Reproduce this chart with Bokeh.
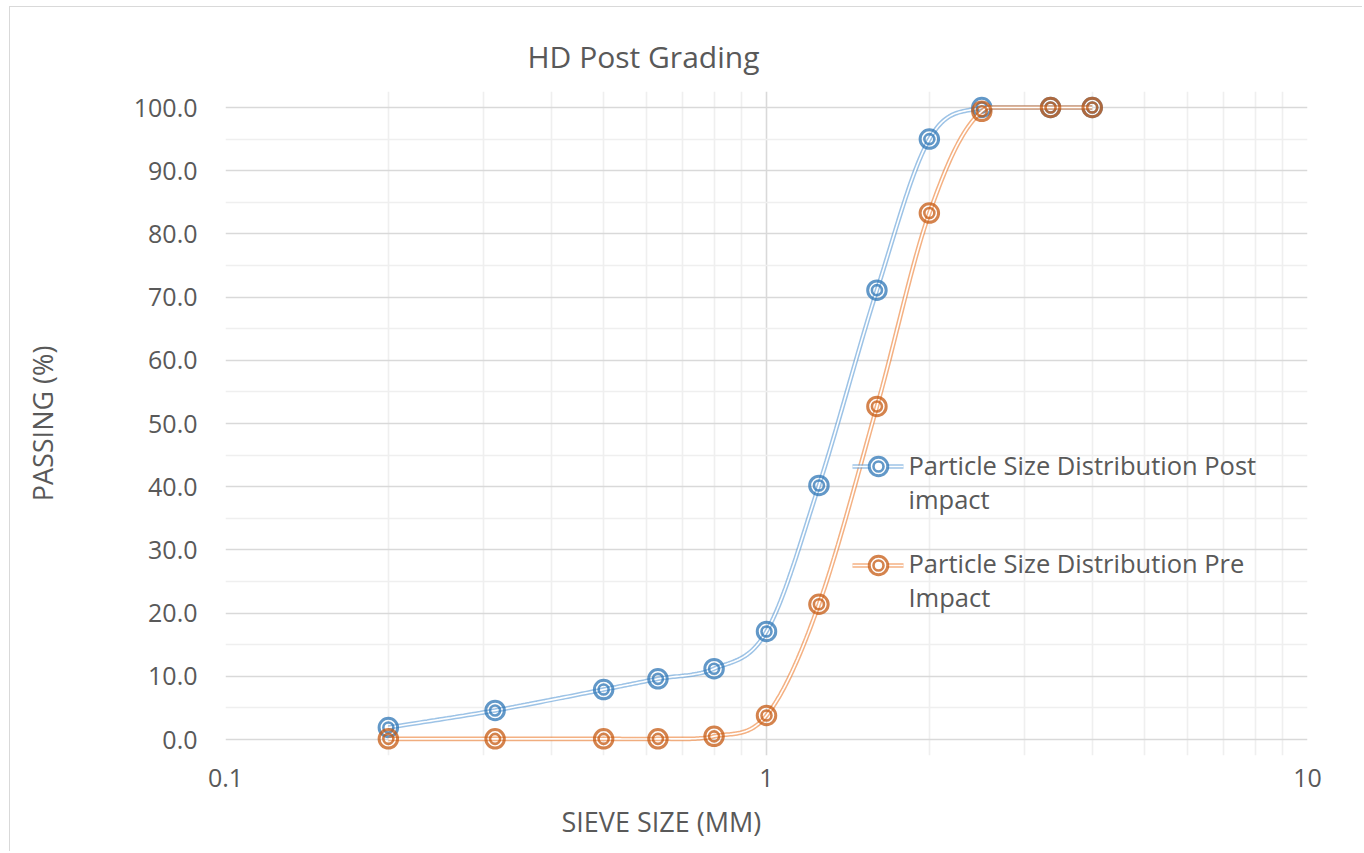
import numpy as np
from bokeh.plotting import figure
from bokeh.models import Range1d, FixedTicker, PrintfTickFormatter, Title
from bokeh.core.properties import value
from bokeh.embed import file_html
from bokeh.resources import INLINE

# ---------------- data ----------------
sieve_mm = [0.2, 0.315, 0.5, 0.63, 0.8, 1.0, 1.25, 1.6, 2.0, 2.5, 3.35, 4.0]
passing_post = [1.9, 4.6, 7.9, 9.6, 11.2, 17.1, 40.2, 71.1, 95.0, 100.0, 100.0, 100.0]
passing_pre = [0.1, 0.1, 0.1, 0.1, 0.5, 3.8, 21.4, 52.7, 83.3, 99.4, 100.0, 100.0]
series_label_lines = [["Particle Size Distribution Post", "impact"],
                      ["Particle Size Distribution Pre", "Impact"]]
y_ticks = [0, 10, 20, 30, 40, 50, 60, 70, 80, 90, 100]
y_minor_ticks = [5, 15, 25, 35, 45, 55, 65, 75, 85, 95]
x_ticks = [0.1, 1, 10]
x_tick_labels = ["0.1", "1", "10"]
x_minor_ticks = [0.2, 0.3, 0.4, 0.5, 0.6, 0.7, 0.8, 0.9, 2, 3, 4, 5, 6, 7, 8, 9]
chart_title = "HD Post Grading"
x_title = "SIEVE SIZE (MM)"
y_title = "PASSING (%)"

# ---------------- layout (page pixels) ----------------
ORIGIN_X, ORIGIN_Y = 10, 7          # canvas origin on the page (after css margin+border)
FIG_W, FIG_H = 1352, 844
PA_LEFT, PA_W = 225, 1082           # plot area on the page
PA_TOP, PA_BOT = 107, 739           # y=100 and y=0 lines on the page
PAD = 16                            # extra frame room so edge markers are not clipped
PX_PER_UNIT = (PA_BOT - PA_TOP) / 100.0

TEXT_COLOR = "#595959"
FONT = "Open Sans"
BLUE_LINE, BLUE_MARK = "#5B9BD5", "#2E75B6"
ORANGE_LINE, ORANGE_MARK = "#ED7D31", "#C55A11"


def xd(px):
    return 10 ** (-1 + 2.0 * (px - PA_LEFT) / PA_W)


def yd(py):
    return (PA_BOT - py) / PX_PER_UNIT


def smooth(xs, ys, steps=30):
    """Excel-like smoothed line (Catmull-Rom Bezier) in log-x space, clipped to the plot area."""
    u = np.log10(np.asarray(xs, float))
    v = np.asarray(ys, float)
    P = np.column_stack([u, v])
    n = len(P)
    out = [P[0]]
    for i in range(n - 1):
        p0 = P[i - 1] if i > 0 else P[i]
        p1, p2 = P[i], P[i + 1]
        p3 = P[i + 2] if i + 2 < n else P[i + 1]
        c1 = p1 + (p2 - p0) / 6.0
        c2 = p2 - (p3 - p1) / 6.0
        t = np.linspace(0, 1, steps + 1)[1:, None]
        b = ((1 - t) ** 3) * p1 + 3 * ((1 - t) ** 2) * t * c1 + 3 * (1 - t) * t ** 2 * c2 + t ** 3 * p2
        out.extend(b)
    out = np.array(out)
    return 10 ** out[:, 0], np.clip(out[:, 1], 0, 100)


pad_units = PAD / PX_PER_UNIT
frame_top = PA_TOP - PAD - ORIGIN_Y
frame_h = (PA_BOT - PA_TOP) + 2 * PAD
p = figure(
    width=FIG_W, height=FIG_H,
    x_axis_type="log",
    x_range=Range1d(0.1, 10), y_range=Range1d(-pad_units, 100 + pad_units),
    frame_width=PA_W, frame_height=frame_h,
    min_border_left=PA_LEFT - ORIGIN_X, min_border_right=FIG_W - (PA_LEFT - ORIGIN_X) - PA_W,
    min_border_top=frame_top, min_border_bottom=FIG_H - frame_top - frame_h,
    output_backend="svg", toolbar_location=None,
    background_fill_color="white", border_fill_color="white",
)
p.outline_line_color = None
p.styles = {"margin-left": "8.5px", "margin-top": "5.5px",
            "border-left": "1.5px solid #d9d9d9", "border-top": "1.5px solid #d9d9d9"}

# chart title
p.title.text = chart_title
p.title.align = "left"
p.title.offset = 302
p.title.vertical_align = "top"
p.title.standoff = 25
p.title.text_font = FONT
p.title.text_font_size = "30px"
p.title.text_font_style = "normal"
p.title.text_color = TEXT_COLOR

# axes / ticks
xt = FixedTicker(ticks=x_ticks, minor_ticks=x_minor_ticks)
yt = FixedTicker(ticks=y_ticks, minor_ticks=y_minor_ticks)
p.xaxis.ticker = xt
p.yaxis.ticker = yt
p.xgrid.ticker = xt
p.ygrid.ticker = yt
p.xaxis.major_label_overrides = {t: s for t, s in zip(x_ticks, x_tick_labels)}
p.yaxis.formatter = PrintfTickFormatter(format="%.1f")
for ax in (p.xaxis, p.yaxis):
    ax.axis_line_color = None
    ax.major_tick_line_color = None
    ax.minor_tick_line_color = None
    ax.major_tick_out = 0
    ax.major_tick_in = 0
    ax.major_label_text_font = FONT
    ax.major_label_text_font_size = "25px"
    ax.major_label_text_color = TEXT_COLOR
    ax.axis_label_text_font = FONT
    ax.axis_label_text_font_size = "27px"
    ax.axis_label_text_font_style = "normal"
    ax.axis_label_text_color = TEXT_COLOR
p.yaxis.major_label_standoff = 24
p.xaxis.major_label_standoff = 9
p.yaxis.axis_label = y_title
p.yaxis.axis_label_standoff = 70

x_title_obj = Title(text=x_title, align="left", offset=566 - PA_LEFT - 5,
                    vertical_align="bottom", standoff=23, text_font=FONT,
                    text_font_size="27px", text_font_style="normal", text_color=TEXT_COLOR)
p.add_layout(x_title_obj, "below")

# grid
for g in (p.xgrid, p.ygrid):
    g.grid_line_color = "#d9d9d9"
    g.grid_line_width = 1.6
    g.minor_grid_line_color = "#efefef"
    g.minor_grid_line_width = 1.6
p.xgrid.bounds = (0, 100)

# series
OUTER, INNER = 18.5, 10
series = [(passing_post, BLUE_LINE, BLUE_MARK), (passing_pre, ORANGE_LINE, ORANGE_MARK)]
for vals, lc, mc in series:
    sx, sy = smooth(sieve_mm, vals)
    p.line(sx, sy, line_color=lc, line_width=4.6, line_alpha=0.6)
    p.line(sx, sy, line_color="white", line_width=1.6)
    p.scatter(sieve_mm, vals, marker="circle", size=OUTER, fill_color=None,
              line_color=mc, line_width=3, line_alpha=0.75)
    p.scatter(sieve_mm, vals, marker="circle", size=INNER, fill_color=None,
              line_color=mc, line_width=2.6, line_alpha=0.75)

# legend (drawn in the plot area so the double ring and wrapped labels match)
leg_rows = [466, 565]                     # glyph centres (page px)
leg_baselines = [(464.5, 498.5), (562.2, 596.2)]
for (vals, lc, mc), gy, (b1, b2), lines in zip(series, leg_rows, leg_baselines, series_label_lines):
    lx = [xd(852), xd(903)]
    ly = [yd(gy), yd(gy)]
    p.line(lx, ly, line_color=lc, line_width=4.6, line_alpha=0.6)
    p.line(lx, ly, line_color="white", line_width=1.6)
    p.scatter([xd(878)], [yd(gy)], marker="circle", size=OUTER, fill_color="white",
              line_color=mc, line_width=3, line_alpha=0.75)
    p.scatter([xd(878)], [yd(gy)], marker="circle", size=INNER, fill_color=None,
              line_color=mc, line_width=2.6, line_alpha=0.75)
    p.text(x=[xd(908), xd(908)], y=[yd(b1), yd(b2)], text=lines,
           text_font=value(FONT), text_font_size=value("25.5px"),
           text_color=TEXT_COLOR, text_align="left", text_baseline="alphabetic")

open("out.html", "w").write(file_html(p, INLINE))
